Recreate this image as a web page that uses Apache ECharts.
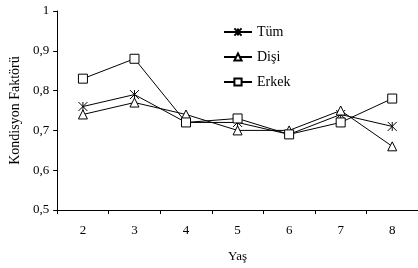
<!DOCTYPE html>
<html>
<head>
<meta charset="utf-8">
<script src="https://cdn.jsdelivr.net/npm/echarts@6/dist/echarts.min.js"></script>
<style>
  html, body { margin: 0; padding: 0; background: #fff; }
  #chart { width: 418px; height: 268px; }
</style>
</head>
<body>
<div id="chart"></div>
<script>
const ages = ['2', '3', '4', '5', '6', '7', '8']
const tum = [0.76, 0.79, 0.72, 0.72, 0.69, 0.74, 0.71]
const disi = [0.74, 0.77, 0.74, 0.70, 0.70, 0.75, 0.66]
const erkek = [0.83, 0.88, 0.72, 0.73, 0.69, 0.72, 0.78]

const font = 'Liberation Serif'
const star = 'path://M0,0L10,10M10,0L0,10M5,0L5,10'

function line(name, data, symbol) {
  return {
    name: name,
    type: 'line',
    data: data,
    symbol: symbol,
    symbolSize: 9,
    lineStyle: { color: '#000', width: 1 },
    itemStyle: { color: '#fff', borderColor: '#000', borderWidth: 1 }
  }
}

const chart = echarts.init(document.getElementById('chart'))
chart.setOption({
  animation: false,
  textStyle: { fontFamily: font, color: '#000' },
  grid: { left: 56, right: -2, top: 11, bottom: 58 },
  legend: {
    orient: 'vertical',
    left: 218,
    top: 20,
    itemWidth: 28,
    itemHeight: 9,
    itemGap: 11,
    textStyle: { fontFamily: font, fontSize: 14, color: '#000' },
    data: ['Tüm', 'Dişi', 'Erkek']
  },
  xAxis: {
    type: 'category',
    data: ages,
    boundaryGap: true,
    name: 'Yaş',
    nameLocation: 'middle',
    nameGap: 40,
    nameTextStyle: { fontFamily: font, fontSize: 13, color: '#000' },
    axisLine: { lineStyle: { color: '#000' } },
    axisTick: { show: true, length: 4, lineStyle: { color: '#000' } },
    axisLabel: { fontFamily: font, fontSize: 13, color: '#000', margin: 14 }
  },
  yAxis: {
    type: 'value',
    min: 0.5,
    max: 1,
    interval: 0.1,
    name: 'Kondisyon Faktörü',
    nameLocation: 'middle',
    nameGap: 29,
    nameTextStyle: { fontFamily: font, fontSize: 14, color: '#000' },
    splitLine: { show: false },
    axisLine: { show: true, lineStyle: { color: '#000' } },
    axisTick: { show: true, length: 4, lineStyle: { color: '#000' } },
    axisLabel: {
      fontFamily: font, fontSize: 13, color: '#000', margin: 8,
      formatter: v => (Math.round(v * 10) / 10).toString().replace('.', ',')
    }
  },
  series: [
    line('Tüm', tum, star),
    line('Dişi', disi, 'triangle'),
    line('Erkek', erkek, 'rect')
  ]
})
</script>
</body>
</html>
